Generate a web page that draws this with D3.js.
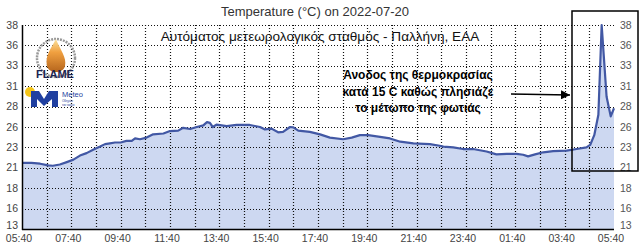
<!DOCTYPE html>
<html>
<head>
<meta charset="utf-8">
<script src="https://cdn.jsdelivr.net/npm/d3@7"></script>
<style>
  body { margin: 0; background: #fff; }
  svg { font-family: "Liberation Sans", Arial, sans-serif; }
</style>
</head>
<body>
<svg id="chart" width="640" height="249"></svg>
<script>
// readings, 2022-07-20 05:40 -> 2022-07-21 05:40
const times = ["05:40","06:03","06:24","06:44","06:55","07:12","07:29","07:45","08:01","08:17","08:33","08:50",
  "09:02","09:14","09:26","09:40","09:54","10:07","10:15","10:27","10:43","10:59","11:24","11:40","12:00","12:12",
  "12:29","12:45","13:01","13:10","13:17","13:24","13:33","13:58","14:22","14:54","15:19","15:31","15:47","16:03",
  "16:15","16:32","16:40","16:52","17:20","17:45","18:09","18:41","19:02","19:22","19:42","20:11","20:35","21:00",
  "21:32","22:12","22:36","22:45","23:09","23:33","23:57","00:30","00:54","01:19","01:43","01:59","02:11","02:28",
  "02:48","03:12","03:45","04:09","04:33","04:42","04:52","05:02","05:10","05:22","05:32","05:40"];
const temps = [21.1,21.1,21.0,20.8,20.75,20.9,21.2,21.5,22.0,22.3,22.7,23.1,
  23.4,23.5,23.6,23.6,23.8,23.8,24.1,24.0,24.2,24.6,24.7,25.0,25.05,25.4,
  25.25,25.5,25.7,26.1,26.0,25.5,25.8,25.6,25.75,25.75,25.5,25.2,25.3,24.85,
  24.9,25.5,25.45,25.05,24.9,24.6,24.2,24.0,24.2,24.5,24.5,24.3,24.1,23.7,
  23.5,23.4,23.2,23.1,23.0,22.8,22.8,22.5,22.15,22.2,22.2,22.1,21.9,22.15,
  22.4,22.55,22.6,22.8,23.0,23.3,24.5,27.0,38.0,29.2,26.8,27.8];
const tickLabels = ["05:40","07:40","09:40","11:40","13:40","15:40","17:40","19:40","21:40","23:40","01:40","03:40","05:40"];
const yTicks = [13,15.5,18,20.5,23,25.5,28,30.5,33,35.5,38];
const title = "Temperature (°C) on 2022-07-20";
const subtitle = "Αυτόματος μετεωρολογικός σταθμός - Παλλήνη, ΕΑΑ";
const note = ["Άνοδος της θερμοκρασίας", "κατά 15 C καθώς πλησιάζε", "το μέτωπο της φωτιάς"];

const svg = d3.select("#chart");
const pLeft = 22, pRight = 614, pTop = 25, pBottom = 229;

// turn HH:MM into dates, rolling to the next day after midnight
const parse = d3.timeParse("%Y-%m-%d %H:%M");
function toDates(list) {
  let day = 20, prev = -1;
  return list.map(s => {
    let m = +s.slice(0, 2) * 60 + +s.slice(3);
    if (m < prev) day = 21;
    prev = m;
    return parse(`2022-07-${day} ${s}`);
  });
}
const dates = toDates(times);
const data = dates.map((d, i) => ({ t: d, v: temps[i] }));

const start = parse("2022-07-20 05:40"), end = parse("2022-07-21 05:40");
const x = d3.scaleTime().domain([start, end]).range([pLeft, pRight]);
const y = d3.scaleLinear().domain([13, 38]).range([pBottom, pTop]);

// area
svg.append("path")
  .datum(data)
  .attr("fill", "#cdd8f1")
  .attr("d", d3.area().x(d => x(d.t)).y0(pBottom).y1(d => y(d.v)));

// grid: every hour, horizontal at each y tick
const hours = d3.range(1, 24).map(i => d3.timeHour.offset(start, i));
const dots = "1,2";
svg.append("g").selectAll("line").data(hours).enter().append("line")
  .attr("x1", d => Math.round(x(d)) + 0.5).attr("x2", d => Math.round(x(d)) + 0.5)
  .attr("y1", pTop).attr("y2", pBottom)
  .attr("stroke", "#111").attr("stroke-width", 1.2).attr("stroke-dasharray", dots);
svg.append("g").selectAll("line").data(yTicks.slice(1)).enter().append("line")
  .attr("x1", pLeft).attr("x2", pRight)
  .attr("y1", d => Math.round(y(d)) + 0.5).attr("y2", d => Math.round(y(d)) + 0.5)
  .attr("stroke", "#111").attr("stroke-width", 1.2).attr("stroke-dasharray", dots);

// line
svg.append("path")
  .datum(data)
  .attr("fill", "none")
  .attr("stroke", "#4258a4")
  .attr("stroke-width", 2.2)
  .attr("stroke-linejoin", "round")
  .attr("d", d3.line().x(d => x(d.t)).y(d => y(d.v)));

// axes lines
svg.append("line").attr("x1", pLeft + 0.5).attr("x2", pLeft + 0.5).attr("y1", pTop).attr("y2", pBottom + 1)
  .attr("stroke", "#000").attr("stroke-width", 1.5);
svg.append("line").attr("x1", pLeft).attr("x2", pRight).attr("y1", pBottom + 0.5).attr("y2", pBottom + 0.5)
  .attr("stroke", "#000").attr("stroke-width", 1.5);

// y labels on both sides (bottom one nudged up, above the time labels)
const fmt = v => Math.round(v);
const yPos = d => d === 13 ? y(d) - 4 : y(d);
svg.append("g").selectAll("text").data(yTicks).enter().append("text")
  .attr("x", 18).attr("y", yPos)
  .attr("dy", "0.35em").attr("text-anchor", "end")
  .attr("font-size", 10.5).attr("fill", "#444").text(fmt);
svg.append("g").selectAll("text").data(yTicks).enter().append("text")
  .attr("x", 620).attr("y", yPos)
  .attr("dy", "0.35em").attr("text-anchor", "start")
  .attr("font-size", 10.5).attr("fill", "#555").text(fmt);

// x labels every two hours
const tickDates = d3.range(0, 13).map(i => d3.timeHour.offset(start, i * 2));
svg.append("g").selectAll("text").data(tickDates).enter().append("text")
  .attr("x", d => Math.min(Math.max(x(d) - 3, 10), 611))
  .attr("y", 242).attr("text-anchor", "middle")
  .attr("font-size", 10.5).attr("fill", "#444")
  .text((d, i) => tickLabels[i]);

// titles
svg.append("text").attr("x", 315).attr("y", 16).attr("text-anchor", "middle")
  .attr("font-size", 13).attr("fill", "#333").text(title);
svg.append("text").attr("x", 320).attr("y", 41).attr("text-anchor", "middle")
  .attr("font-size", 13.6).attr("fill", "#111").text(subtitle);

// annotation
svg.append("g").selectAll("text").data(note).enter().append("text")
  .attr("x", 418).attr("y", (d, i) => 79 + i * 16.5)
  .attr("text-anchor", "middle").attr("font-size", 12).attr("font-weight", "bold")
  .attr("fill", "#000").text(d => d);

const defs = svg.append("defs");
defs.append("marker")
  .attr("id", "head").attr("viewBox", "0 0 10 10").attr("refX", 10).attr("refY", 5)
  .attr("markerWidth", 6).attr("markerHeight", 6).attr("orient", "auto")
  .append("path").attr("d", "M0,0L10,5L0,10z").attr("fill", "#000");
svg.append("line").attr("x1", 511).attr("x2", 570).attr("y1", 94).attr("y2", 95)
  .attr("stroke", "#000").attr("stroke-width", 1.5).attr("marker-end", "url(#head)");

svg.append("rect").attr("x", 572).attr("y", 11).attr("width", 66).attr("height", 160)
  .attr("fill", "none").attr("stroke", "#000").attr("stroke-width", 1.5);

// logos (rough)
const logo = svg.append("g");
const grad = defs.append("linearGradient").attr("id", "flame")
  .attr("x1", 0).attr("y1", 1).attr("x2", 0).attr("y2", 0);
grad.append("stop").attr("offset", 0).attr("stop-color", "#b5651d");
grad.append("stop").attr("offset", 0.6).attr("stop-color", "#f0a040");
grad.append("stop").attr("offset", 1).attr("stop-color", "#fbe3a0");
logo.append("circle").attr("cx", 56).attr("cy", 58).attr("r", 19)
  .attr("fill", "none").attr("stroke", "#999").attr("stroke-width", 2.5).attr("stroke-dasharray", "2,1");
logo.append("path").attr("d", "M56,39 C50,50 45,56 47,66 C49,74 63,74 65,66 C67,57 60,50 56,39z")
  .attr("fill", "url(#flame)");
logo.append("text").attr("x", 55).attr("y", 78).attr("text-anchor", "middle")
  .attr("font-size", 11).attr("font-weight", "bold").attr("fill", "#1c2450").text("FLAME");
logo.append("circle").attr("cx", 30).attr("cy", 92).attr("r", 5).attr("fill", "#f5c518");
logo.append("path").attr("d", "M31,107 L31,91 L39,91 L44,99 L49,91 L58,91 L58,107 L52,107 L52,99 L44,106 L37,99 L37,107z")
  .attr("fill", "#1f3fa0");
logo.append("text").attr("x", 62).attr("y", 97).attr("font-size", 7.5).attr("fill", "#1f3fa0").text("Meteo");
logo.append("text").attr("x", 62).attr("y", 102).attr("font-size", 3).attr("fill", "#1f3fa0").text("Οδηγών");
logo.append("text").attr("x", 62).attr("y", 106).attr("font-size", 3).attr("fill", "#1f3fa0").text("τον καιρό");
</script>
</body>
</html>
